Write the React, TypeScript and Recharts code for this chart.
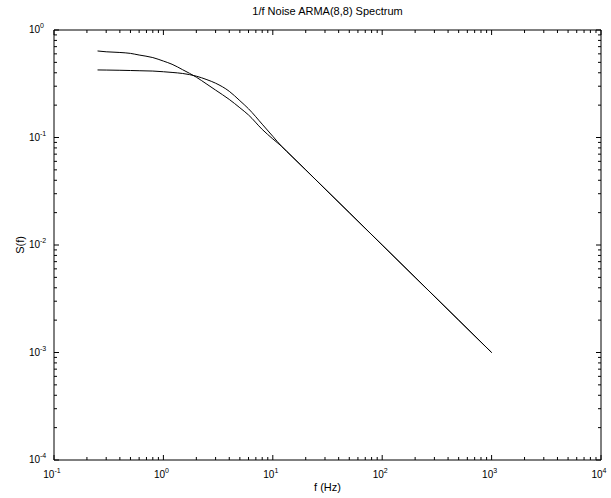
import React from 'react';
import { LineChart, Line, XAxis, YAxis } from 'recharts';

// frequency grid (Hz) and the two spectra
const FREQ = [0.25, 0.3, 0.4, 0.5, 0.6, 0.8, 1, 1.2, 1.5, 2, 2.5, 3, 4, 5, 6, 8, 10, 12, 15, 20, 30, 50, 100, 200, 500, 1000];
const SPEC_A = [0.638, 0.627, 0.618, 0.606, 0.585, 0.554, 0.514, 0.48, 0.427, 0.364, 0.313, 0.276, 0.226, 0.189, 0.162, 0.119, 0.097, 0.083, 0.0665, 0.05, 0.0333, 0.02, 0.01, 0.005, 0.002, 0.001];
const SPEC_B = [0.425, 0.424, 0.422, 0.42, 0.418, 0.415, 0.409, 0.403, 0.394, 0.372, 0.345, 0.32, 0.269, 0.22, 0.185, 0.133, 0.1026, 0.083, 0.0665, 0.05, 0.0333, 0.02, 0.01, 0.005, 0.002, 0.001];

const X_DECADES = [-1, 0, 1, 2, 3, 4];
const Y_DECADES = [-4, -3, -2, -1, 0];
const MINOR = [2, 3, 4, 5, 6, 7, 8, 9];

const TITLE = '1/f Noise ARMA(8,8) Spectrum';
const X_LABEL = 'f (Hz)';
const Y_LABEL = 'S(f)';

const FONT = '"Liberation Sans", Arial, Helvetica, sans-serif';

const data = FREQ.map((f, i) => ({ f, a: SPEC_A[i], b: SPEC_B[i] }));

const buildTicks = (decades: number[]) => {
  const out: number[] = [];
  decades.forEach((d, i) => {
    out.push(10 ** d);
    if (i < decades.length - 1) MINOR.forEach(m => out.push(m * 10 ** d));
  });
  return out;
};
const X_TICKS = buildTicks(X_DECADES);
const Y_TICKS = buildTicks(Y_DECADES);

const tickInfo = (v: number) => {
  const exp = Math.round(Math.log10(v));
  const major = Math.abs(v - 10 ** exp) < 1e-9 * v;
  return { exp, major };
};

const BottomTick = (props: any) => {
  const { x, y, payload } = props;
  const { exp, major } = tickInfo(payload.value);
  return (
    <g>
      <line x1={x} x2={x} y1={y} y2={y - (major ? 5 : 3)} stroke="#000" />
      {major && (
        <text x={x - 2} y={y + 18} textAnchor="middle" fontSize={10} fontFamily={FONT} fill="#000">
          <tspan>10</tspan>
          <tspan dy={-5} fontSize={7}>{exp}</tspan>
        </text>
      )}
    </g>
  );
};

const TopTick = (props: any) => {
  const { x, y, payload } = props;
  const { major } = tickInfo(payload.value);
  return <line x1={x} x2={x} y1={y} y2={y + (major ? 5 : 3)} stroke="#000" />;
};

const LeftTick = (props: any) => {
  const { x, y, payload } = props;
  const { exp, major } = tickInfo(payload.value);
  return (
    <g>
      <line x1={x} x2={x + (major ? 5 : 3)} y1={y} y2={y} stroke="#000" />
      {major && (
        <g fontFamily={FONT} fill="#000">
          <text x={x - 14} y={y + 3} textAnchor="end" fontSize={10}>10</text>
          <text x={x - 14} y={y - 2} textAnchor="start" fontSize={7}>{exp}</text>
        </g>
      )}
    </g>
  );
};

const RightTick = (props: any) => {
  const { x, y, payload } = props;
  const { major } = tickInfo(payload.value);
  return <line x1={x} x2={x - (major ? 5 : 3)} y1={y} y2={y} stroke="#000" />;
};

const axisLine = { stroke: '#000', strokeWidth: 1 };

export default function App() {
  return (
    <div style={{ position: 'absolute', left: 0, top: 0, width: 611, height: 498, background: '#fff', fontFamily: FONT }}>
      <LineChart width={611} height={498} data={data} margin={{ top: 29, right: 9, bottom: 8, left: 14 }}>
        <XAxis
          dataKey="f"
          type="number"
          scale="log"
          domain={[0.1, 10000]}
          allowDataOverflow
          ticks={X_TICKS}
          interval={0}
          height={30}
          tickSize={0}
          tickMargin={0}
          tickLine={false}
          axisLine={axisLine}
          tick={(p: any) => <BottomTick {...p} />}
        />
        <XAxis
          xAxisId="top"
          orientation="top"
          dataKey="f"
          type="number"
          scale="log"
          domain={[0.1, 10000]}
          allowDataOverflow
          ticks={X_TICKS}
          interval={0}
          height={1}
          tickSize={0}
          tickMargin={0}
          tickLine={false}
          axisLine={axisLine}
          tick={(p: any) => <TopTick {...p} />}
        />
        <YAxis
          type="number"
          scale="log"
          domain={[0.0001, 1]}
          allowDataOverflow
          ticks={Y_TICKS}
          interval={0}
          width={40}
          tickSize={0}
          tickMargin={0}
          tickLine={false}
          axisLine={axisLine}
          tick={(p: any) => <LeftTick {...p} />}
        />
        <YAxis
          yAxisId="right"
          orientation="right"
          type="number"
          scale="log"
          domain={[0.0001, 1]}
          allowDataOverflow
          ticks={Y_TICKS}
          interval={0}
          width={1}
          tickSize={0}
          tickMargin={0}
          tickLine={false}
          axisLine={axisLine}
          tick={(p: any) => <RightTick {...p} />}
        />
        <Line type="monotone" dataKey="a" stroke="#000" strokeWidth={1} dot={false} isAnimationActive={false} />
        <Line type="monotone" dataKey="b" stroke="#000" strokeWidth={1} dot={false} isAnimationActive={false} />
      </LineChart>
      <div style={{ position: 'absolute', left: 54, width: 547, top: 4, textAlign: 'center', fontSize: 11, lineHeight: '14px' }}>
        {TITLE}
      </div>
      <div style={{ position: 'absolute', left: 54, width: 547, top: 480, textAlign: 'center', fontSize: 11, lineHeight: '14px' }}>
        {X_LABEL}
      </div>
      <div
        style={{
          position: 'absolute',
          left: 20,
          top: 245,
          fontSize: 11,
          lineHeight: '14px',
          whiteSpace: 'nowrap',
          transform: 'translate(-50%, -50%) rotate(-90deg)',
        }}
      >
        {Y_LABEL}
      </div>
    </div>
  );
}
